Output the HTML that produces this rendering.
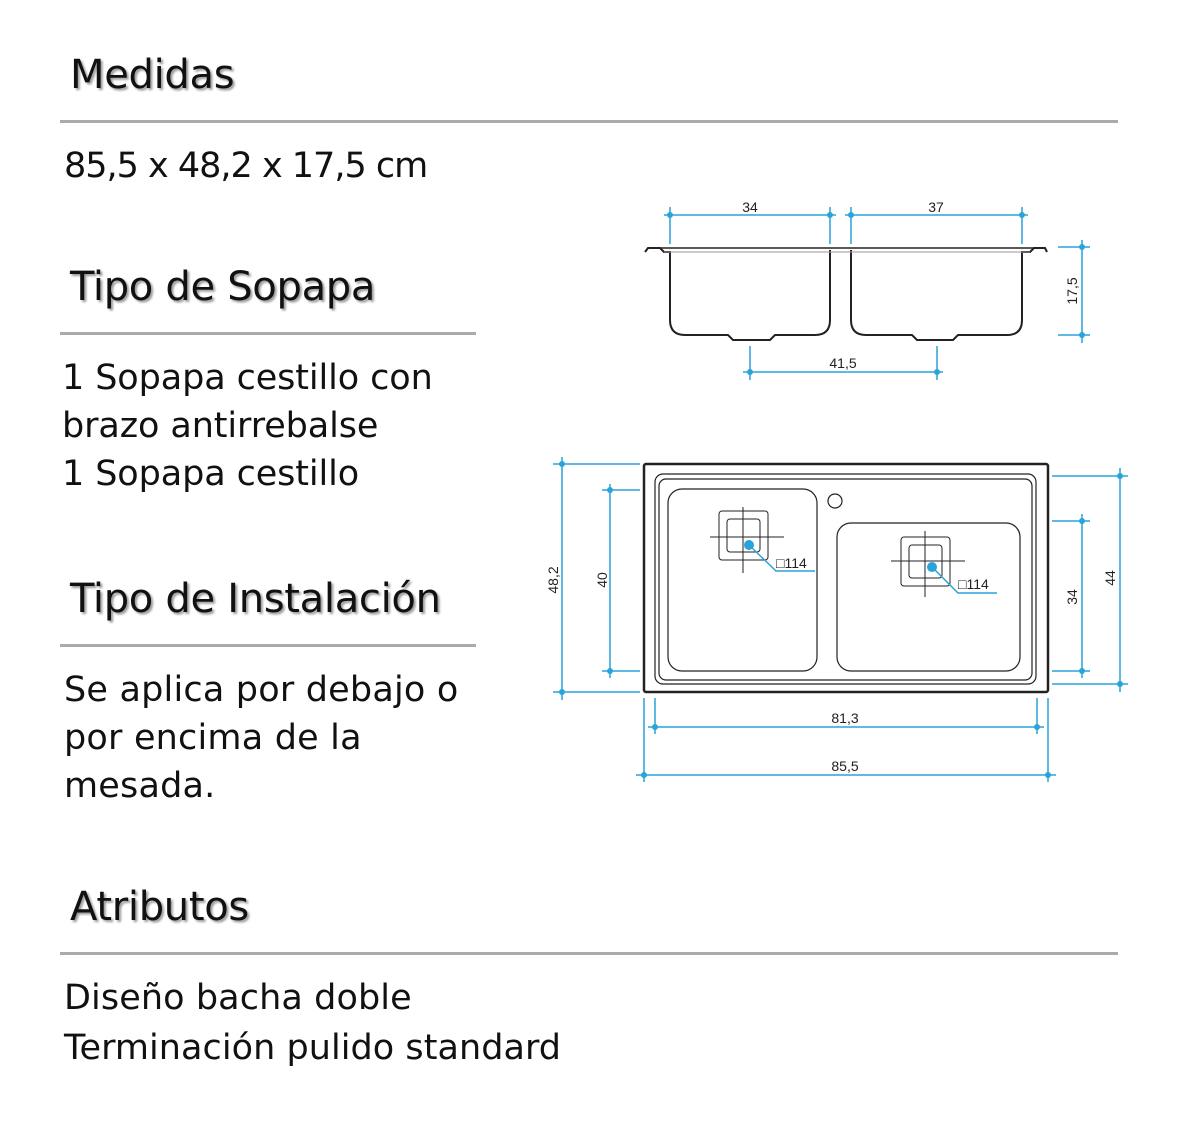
<!DOCTYPE html>
<html><head><meta charset="utf-8"><style>
body{margin:0;width:1184px;height:1126px;background:#fff;position:relative;overflow:hidden;font-family:"DejaVu Sans","Liberation Sans",sans-serif;color:#111}
.h{position:absolute;left:70px;font-size:40px;text-shadow:2px 2px 2px #999;letter-spacing:-0.3px}
.t{position:absolute;left:64px;font-size:35px;line-height:48px;letter-spacing:0px;transform-origin:0 0}
.l{position:absolute;left:60px;height:3px;background:#aaa}
</style></head><body>
<div class="h" style="top:52px">Medidas</div>
<div class="l" style="top:120px;width:1058px"></div>
<div class="t" style="top:142px;letter-spacing:-1px">85,5 x 48,2 x 17,5 cm</div>
<div class="h" style="top:264px">Tipo de Sopapa</div>
<div class="l" style="top:332px;width:416px"></div>
<div class="t" style="top:354px;left:62px;letter-spacing:-0.1px">1 Sopapa cestillo con<br>brazo antirrebalse<br>1 Sopapa cestillo</div>
<div class="h" style="top:576px">Tipo de Instalación</div>
<div class="l" style="top:644px;width:416px"></div>
<div class="t" style="top:666px;letter-spacing:0.2px">Se aplica por debajo o<br>por encima de la<br>mesada.</div>
<div class="h" style="top:884px">Atributos</div>
<div class="l" style="top:952px;width:1058px"></div>
<div class="t" style="top:974px;line-height:48px;letter-spacing:0.1px">Diseño bacha doble<br><span style="position:relative;top:2px;letter-spacing:0.05px">Terminación pulido standard</span></div>

<svg width="1184" height="1126" style="position:absolute;left:0;top:0" font-family="Liberation Sans,sans-serif" font-size="14">
<g stroke="#222" fill="none" stroke-width="2">
<path d="M645 252 L648 248 L660 248 L664 252 L670 252 L670 320 Q670 335 685 335 L728 335 L733 340 L770 340 L775 335 L815 335 Q830 335 830 320 L830 250"/>
<path d="M851 250 L851 320 Q851 335 866 335 L912 335 L917 340 L953 340 L958 335 L1007 335 Q1022 335 1022 320 L1022 252 L1030 252 L1034 248 L1045 248 L1047 252"/>
<line x1="660" y1="248" x2="1034" y2="248" stroke-width="1.5"/>
<line x1="664" y1="252" x2="1030" y2="252" stroke-width="1" stroke="#999"/>
<rect x="644" y="464" width="404" height="228" rx="2" stroke-width="2.5"/>
<rect x="655" y="474" width="381" height="210" rx="8" stroke-width="1.2"/>
<rect x="659" y="479" width="373" height="201" rx="7" stroke-width="1.2"/>
<rect x="668" y="489" width="149" height="182" rx="14" stroke-width="1.2"/>
<rect x="837" y="523" width="183" height="148" rx="14" stroke-width="1.2"/>
<circle cx="835" cy="501" r="7" stroke-width="1.2"/>
<g stroke-width="1">
<rect x="719" y="511" width="49" height="49" rx="3"/><rect x="727" y="519" width="33" height="33" rx="3"/>
<line x1="710" y1="537" x2="784" y2="537"/><line x1="743" y1="507" x2="743" y2="573"/>
<rect x="901" y="537" width="49" height="49" rx="3"/><rect x="909" y="545" width="33" height="33" rx="3"/>
<line x1="891" y1="561" x2="965" y2="561"/><line x1="925" y1="531" x2="925" y2="597"/>
</g></g>
<g stroke="#29a3d8" fill="#29a3d8" stroke-width="1.5">
<line x1="664" y1="215" x2="836" y2="215"/><line x1="670" y1="207" x2="670" y2="244"/><line x1="830" y1="207" x2="830" y2="244"/>
<line x1="845" y1="215" x2="1028" y2="215"/><line x1="851" y1="207" x2="851" y2="244"/><line x1="1022" y1="207" x2="1022" y2="244"/>
<line x1="1082" y1="240" x2="1082" y2="343"/><line x1="1058" y1="247" x2="1090" y2="247"/><line x1="1058" y1="335" x2="1090" y2="335"/>
<line x1="743" y1="372" x2="943" y2="372"/><line x1="750" y1="346" x2="750" y2="380"/><line x1="937" y1="346" x2="937" y2="380"/>
<line x1="562" y1="457" x2="562" y2="700"/><line x1="553" y1="464" x2="640" y2="464"/><line x1="553" y1="692" x2="640" y2="692"/>
<line x1="610" y1="484" x2="610" y2="678"/><line x1="602" y1="490" x2="640" y2="490"/><line x1="602" y1="671" x2="640" y2="671"/>
<line x1="1120" y1="468" x2="1120" y2="692"/><line x1="1052" y1="476" x2="1128" y2="476"/><line x1="1052" y1="684" x2="1128" y2="684"/>
<line x1="1082" y1="514" x2="1082" y2="678"/><line x1="1052" y1="521" x2="1090" y2="521"/><line x1="1052" y1="671" x2="1090" y2="671"/>
<line x1="648" y1="727" x2="1044" y2="727"/><line x1="655" y1="698" x2="655" y2="734"/><line x1="1037" y1="698" x2="1037" y2="734"/>
<line x1="636" y1="775" x2="1056" y2="775"/><line x1="644" y1="698" x2="644" y2="782"/><line x1="1048" y1="698" x2="1048" y2="782"/>
<polyline points="749,545 776,571 815,571" fill="none"/><polyline points="932,567 958,593 997,593" fill="none"/>
<g stroke="none">
<circle cx="670" cy="215" r="3"/><circle cx="830" cy="215" r="3"/><circle cx="851" cy="215" r="3"/><circle cx="1022" cy="215" r="3"/>
<circle cx="1082" cy="247" r="3"/><circle cx="1082" cy="335" r="3"/><circle cx="750" cy="372" r="3"/><circle cx="937" cy="372" r="3"/>
<circle cx="562" cy="464" r="3"/><circle cx="562" cy="692" r="3"/><circle cx="610" cy="490" r="3"/><circle cx="610" cy="671" r="3"/>
<circle cx="1120" cy="476" r="3"/><circle cx="1120" cy="684" r="3"/><circle cx="1082" cy="521" r="3"/><circle cx="1082" cy="671" r="3"/>
<circle cx="655" cy="727" r="3"/><circle cx="1037" cy="727" r="3"/><circle cx="644" cy="775" r="3"/><circle cx="1048" cy="775" r="3"/>
<circle cx="749" cy="545" r="5"/><circle cx="932" cy="567" r="5"/></g></g>
<g fill="#222">
<text x="750" y="212" text-anchor="middle">34</text><text x="936" y="212" text-anchor="middle">37</text>
<text x="843" y="368" text-anchor="middle">41,5</text>
<text transform="translate(1077,291) rotate(-90)" text-anchor="middle">17,5</text>
<text transform="translate(558,580) rotate(-90)" text-anchor="middle">48,2</text>
<text transform="translate(607,580) rotate(-90)" text-anchor="middle">40</text>
<text transform="translate(1115,578) rotate(-90)" text-anchor="middle">44</text>
<text transform="translate(1077,597) rotate(-90)" text-anchor="middle">34</text>
<text x="845" y="723" text-anchor="middle">81,3</text><text x="845" y="771" text-anchor="middle">85,5</text>
<text x="776" y="568">□114</text><text x="958" y="589">□114</text>
</g></svg>
</body></html>
